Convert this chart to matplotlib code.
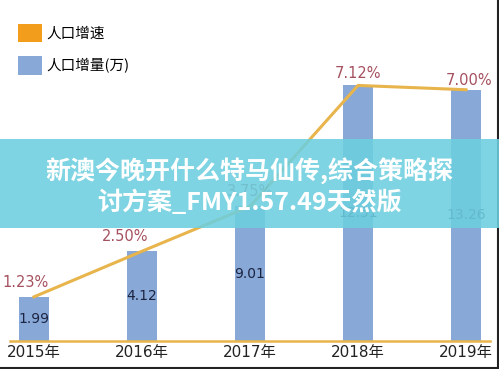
import numpy as np
import matplotlib
matplotlib.use('Agg')
import matplotlib.pyplot as plt
from matplotlib.patches import Patch, Rectangle
from matplotlib.lines import Line2D

plt.rcParams['font.family'] = ['DejaVu Sans', 'Noto Sans CJK SC']

## data
years = ['2015年', '2016年', '2017年', '2018年', '2019年']
rate = [1.23, 2.50, 3.75, 7.12, 7.00]          # 人口增速 (%)
rate_labels = ['1.23%', '2.50%', '3.75%', '7.12%', '7.00%']
increase = [1.99, 4.12, 9.01, 12.51, 13.26]    # 人口增量(万)
banner_text = '新澳今晚开什么特马仙传,综合策略探\n讨方案_FMY1.57.49天然版'

bar_col = '#88a8d8'
line_col = '#e8b44c'
pct_col = '#a5505e'
num_col = '#1c2440'

fig = plt.figure(figsize=(4.99, 3.69), dpi=100, facecolor='white')
ax = fig.add_axes([10/499, 28/369, 480/499, 341/369])
x = np.arange(len(years))

ax.bar(x, rate, width=0.28, color=bar_col, zorder=2)
ax.plot(x, rate, color=line_col, lw=2.2, zorder=3)

## labels
pct_off = [(-6, 5), (-12, 5), (0, 5), (0, 3), (2, 1)]
for i in range(len(x)):
    ax.annotate(rate_labels[i], (x[i], rate[i]), xytext=pct_off[i], textcoords='offset points',
                ha='center', va='bottom', fontsize=10.5, color=pct_col, zorder=4)
    ax.text(x[i], rate[i] / 2, '%.2f' % increase[i], ha='center', va='center',
            fontsize=10, color=num_col, zorder=4)

ax.set_xlim(-0.222, 4.222)
ax.set_ylim(0, 9.5)
for s in ['top', 'right', 'left']:
    ax.spines[s].set_visible(False)
ax.spines['bottom'].set_color(line_col)
ax.spines['bottom'].set_linewidth(1.8)
ax.set_yticks([])
ax.set_xticks(x)
ax.set_xticklabels(years, fontsize=11, color='#222222')
ax.tick_params(axis='x', length=0, pad=3)

## legend
handles = [Patch(facecolor='#f29d1c', edgecolor='none'), Patch(facecolor=bar_col, edgecolor='none')]
fig.legend(handles, ['人口增速', '人口增量(万)'], loc='upper left', bbox_to_anchor=(0.034, 0.94),
           frameon=False, handlelength=1.6, handleheight=1.6, borderaxespad=0, borderpad=0.1,
           handletextpad=0.35, labelspacing=0.95, prop={'family': ['Noto Sans CJK SC'], 'size': 10.5})

## watermark banner
fig.patches.append(Rectangle((0, 1 - 228/369), 1, 89/369, transform=fig.transFigure,
                             facecolor='#6ccfdf', alpha=0.88, zorder=5))
fig.text(0.5, 1 - 186/369, banner_text, ha='center', va='center', color='white',
         fontsize=18, fontweight='bold', linespacing=1.25, zorder=6,
         family=['Noto Sans CJK SC', 'DejaVu Sans'])

## dark frame on bottom and right edge
fig.add_artist(Line2D([0, 1], [0.003, 0.003], transform=fig.transFigure, color='#222222', lw=1.5))
fig.add_artist(Line2D([0.998, 0.998], [0, 1], transform=fig.transFigure, color='#222222', lw=1.5))

fig.savefig('out.png', dpi=100)
